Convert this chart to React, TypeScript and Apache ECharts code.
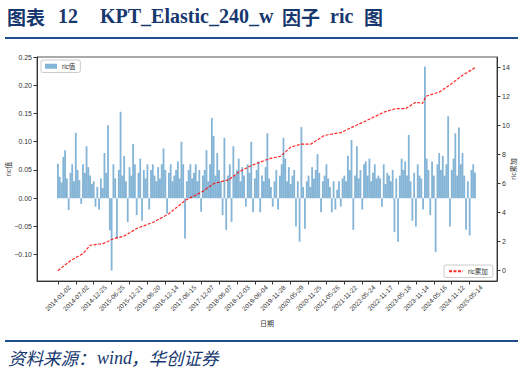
import React, { useEffect, useRef } from "react";
import * as echarts from "echarts";

// ---- data ----
const xTickLabels = [
  "2014-01-02", "2014-07-02", "2014-12-25", "2015-06-25", "2015-12-21", "2016-06-20",
  "2016-12-14", "2017-06-15", "2017-12-07", "2018-06-07", "2018-12-03", "2019-06-04",
  "2019-11-28", "2020-05-29", "2020-11-25", "2021-05-26", "2021-11-22", "2022-05-24",
  "2022-11-17", "2023-05-18", "2023-11-14", "2024-05-16", "2024-11-12", "2025-05-14",
];
const weeksPerTick = 25;
const weeksPerBar = 2.5;
const lastWeek = 584;

const leftTicks = [-0.1, -0.05, 0, 0.05, 0.1, 0.15, 0.2, 0.25];
const rightTicks = [0, 2, 4, 6, 8, 10, 12, 14];

// ric values (one every 2.5 weeks)
const ricValues = [
  0.061, 0.038, 0.028, 0.073, 0.085, 0.035, -0.021, 0.045, 0.06, 0.03,
  0.116, 0.05, 0.032, -0.01, 0.06, 0.045, 0.092, 0.055, 0.04, 0.025,
  0.03, -0.015, 0.02, -0.02, 0.035, 0.018, 0.08, 0.045, 0.129, -0.057,
  -0.128, 0.06, 0.035, -0.0715, 0.05, 0.153, 0.04, 0.075, 0.03, -0.042,
  0.055, 0.04, 0.096, 0.06, -0.03, 0.045, 0.07, -0.04, 0.05, 0.035,
  0.06, -0.02, 0.05, 0.06, 0.04, 0.03, 0.055, 0.035, 0.06, 0.088,
  0.05, -0.027, 0.045, 0.06, 0.03, 0.04, 0.05, 0.065, 0.035, 0.1,
  0.06, -0.0715, 0.03, 0.05, 0.06, 0.035, 0.045, 0.06, 0.03, 0.05,
  -0.024, 0.04, 0.05, 0.085, 0.03, 0.06, 0.142, 0.11, 0.04, 0.08,
  0.05, 0.03, -0.03, 0.107, -0.056, 0.04, 0.06, -0.042, 0.092, 0.04,
  0.05, 0.07, 0.03, 0.055, 0.04, -0.015, 0.06, 0.045, 0.1, -0.025,
  0.035, 0.05, 0.065, -0.025, 0.04, 0.03, 0.055, 0.115, 0.035, 0.02,
  -0.015, 0.03, 0.05, -0.02, 0.04, 0.06, 0.107, 0.07, 0.03, 0.055,
  0.025, 0.04, 0.05, -0.05, 0.03, -0.077, 0.126, 0.02, -0.054, 0.03,
  0.04, 0.02, 0.055, 0.035, 0.05, 0.078, 0.045, -0.025, 0.03, 0.04,
  0.06, 0.035, 0.02, -0.025, 0.03, -0.02, 0.015, 0.03, -0.015, 0.035,
  0.04, 0.03, 0.075, 0.05, 0.103, -0.056, 0.04, 0.092, 0.035, 0.05,
  -0.02, 0.06, 0.065, 0.04, 0.07, 0.03, 0.045, 0.06, 0.035, 0.04,
  0.035, -0.015, 0.06, 0.025, 0.045, 0.04, 0.03, 0.05, -0.06, 0.035,
  -0.077, 0.04, 0.07, 0.05, 0.065, 0.04, 0.112, 0.03, -0.04, 0.045,
  -0.05, 0.06, 0.04, 0.035, -0.02, 0.233, 0.07, 0.05, -0.03, 0.065,
  0.04, -0.095, 0.06, 0.08, 0.05, 0.075, 0.04, 0.06, 0.145, -0.05,
  0.05, 0.07, 0.115, 0.04, 0.125, 0.06, 0.08, 0.04, -0.056, 0.03,
  -0.066, 0.05, 0.06, 0.045,
];

// cumulative ric (week index, value)
const cumWeeks = [0, 17, 35, 45, 63, 78, 92, 110, 134, 155, 178, 201, 218, 239, 253, 271, 295, 311, 325, 339, 353, 372, 395, 414, 432, 456, 472, 486, 500, 509, 514, 533, 547, 565, 584];
const cumValues = [0.0, 0.67, 1.17, 1.75, 1.86, 2.2, 2.37, 2.9, 3.35, 3.92, 4.84, 5.42, 6.0, 6.26, 6.8, 7.25, 7.7, 7.87, 8.5, 8.7, 8.7, 9.3, 9.5, 9.94, 10.35, 10.92, 11.15, 11.15, 11.6, 11.5, 12.0, 12.3, 12.76, 13.45, 14.0];

const NAVY = "#17386f";
const LINE_BLUE = "#1f4e8c";
const AXIS = "#333333";
const LABEL_FONT = "'Liberation Sans', Arial, 'Noto Sans CJK SC', sans-serif";

export default function App() {
  const ref = useRef<HTMLDivElement>(null);
  useEffect(() => {
    if (!ref.current) return;
    const chart = echarts.init(ref.current, undefined, { renderer: "svg" });
    const margin = lastWeek * 0.05;
    const fmtLeft = (v: number) => (v < 0 ? "\u2212" + Math.abs(v).toFixed(2) : v.toFixed(2));
    const option: any = {
      animation: false,
      backgroundColor: "#ffffff",
      grid: {
        left: 37, top: 57, width: 460, height: 224,
        show: true, borderColor: "#555", borderWidth: 1,
        outerBoundsMode: "none",
      },
      legend: [
        {
          data: [{ name: "ric值", icon: "rect" }],
          left: 41, top: 60,
          itemWidth: 12, itemHeight: 5,
          padding: [3, 5, 3, 4],
          borderColor: "#cccccc", borderWidth: 1, borderRadius: 2,
          backgroundColor: "#ffffff",
          textStyle: { fontSize: 6.5, color: "#333", fontFamily: LABEL_FONT },
        },
        {
          data: ["ric累加"],
          left: 444, top: 265,
          itemWidth: 14, itemHeight: 5,
          padding: [3, 5, 3, 4],
          borderColor: "#cccccc", borderWidth: 1, borderRadius: 2,
          backgroundColor: "#ffffff",
          itemStyle: { opacity: 0 },
          textStyle: { fontSize: 6.5, color: "#333", fontFamily: LABEL_FONT },
        },
      ],
      xAxis: {
        type: "value",
        min: -margin,
        max: lastWeek + margin,
        name: "日期",
        nameLocation: "middle",
        nameGap: 39,
        nameMoveOverlap: false,
        nameTextStyle: { fontSize: 7, color: "#333", fontFamily: LABEL_FONT },
        splitLine: { show: false },
        axisLine: { show: true, onZero: false, lineStyle: { color: AXIS, width: 1 } },
        axisTick: {
          show: true, length: 3.5, inside: false,
          customValues: xTickLabels.map((_, i) => i * weeksPerTick),
          lineStyle: { color: AXIS },
        },
        axisLabel: {
          customValues: xTickLabels.map((_, i) => i * weeksPerTick),
          formatter: (v: number) => xTickLabels[Math.round(v / weeksPerTick)] ?? "",
          rotate: 45,
          align: "center",
          verticalAlign: "middle",
          margin: 17,
          fontSize: 6.5,
          color: "#333",
          fontFamily: LABEL_FONT,
        },
      },
      yAxis: [
        {
          type: "value",
          min: -0.1466, max: 0.25,
          name: "ric值",
          nameLocation: "middle",
          nameGap: 25,
          nameRotate: 90,
          nameMoveOverlap: false,
          nameTextStyle: { fontSize: 7, color: "#333", fontFamily: LABEL_FONT },
          splitLine: { show: false },
          axisLine: { show: true, onZero: false, lineStyle: { color: AXIS } },
          axisTick: { show: true, length: 3.5, customValues: leftTicks, lineStyle: { color: AXIS } },
          axisLabel: {
            customValues: leftTicks, formatter: fmtLeft,
            fontSize: 7, color: "#333", margin: 5, fontFamily: LABEL_FONT,
          },
        },
        {
          type: "value",
          position: "right",
          min: -0.71, max: 14.7,
          name: "ric累加",
          nameLocation: "middle",
          nameGap: 13,
          nameRotate: 90,
          nameMoveOverlap: false,
          nameTextStyle: { fontSize: 7, color: "#333", fontFamily: LABEL_FONT },
          splitLine: { show: false },
          axisLine: { show: true, onZero: false, lineStyle: { color: AXIS } },
          axisTick: { show: true, length: 3.5, customValues: rightTicks, lineStyle: { color: AXIS } },
          axisLabel: {
            customValues: rightTicks, formatter: (v: number) => String(v),
            fontSize: 7, color: "#333", margin: 5, fontFamily: LABEL_FONT,
          },
        },
      ],
      series: [
        {
          name: "ric值",
          type: "bar",
          yAxisIndex: 0,
          barWidth: 1.8,
          itemStyle: { color: "rgba(31,119,180,0.55)" },
          data: ricValues.map((v, i) => [i * weeksPerBar, v]),
        },
        {
          name: "ric累加",
          type: "line",
          yAxisIndex: 1,
          symbol: "none",
          lineStyle: { color: "rgba(255,0,0,0.85)", width: 1.2, type: [3, 1.5] },
          itemStyle: { color: "rgba(255,0,0,0.85)" },
          data: cumWeeks.map((w, i) => [w, cumValues[i]]),
        },
      ],
      graphic: [
        { type: "text", left: 7, top: 7, style: { text: "图表", fontSize: 19, fontWeight: "bold", fill: NAVY, fontFamily: "'Noto Sans CJK SC', sans-serif" } },
        { type: "text", left: 58, top: 6, style: { text: "12", fontSize: 20, fontWeight: "bold", fill: NAVY, fontFamily: "'Liberation Serif', serif" } },
        { type: "text", left: 100, top: 6, style: { text: "KPT_Elastic_240_w", fontSize: 20, fontWeight: "bold", fill: NAVY, fontFamily: "'Liberation Serif', serif" } },
        { type: "text", left: 282, top: 7, style: { text: "因子", fontSize: 19, fontWeight: "bold", fill: NAVY, fontFamily: "'Noto Sans CJK SC', sans-serif" } },
        { type: "text", left: 330, top: 6, style: { text: "ric", fontSize: 20, fontWeight: "bold", fill: NAVY, fontFamily: "'Liberation Serif', serif" } },
        { type: "text", left: 364, top: 7, style: { text: "图", fontSize: 19, fontWeight: "bold", fill: NAVY, fontFamily: "'Noto Sans CJK SC', sans-serif" } },
        { type: "rect", shape: { x: 5, y: 37, width: 513, height: 2 }, style: { fill: LINE_BLUE } },
        { type: "rect", shape: { x: 5, y: 340, width: 513, height: 2 }, style: { fill: LINE_BLUE } },
        { type: "text", left: 8, top: 349, style: { text: "资料来源：", fontSize: 17.5, fontStyle: "italic", fill: NAVY, fontFamily: "'Noto Sans CJK SC', sans-serif" } },
        { type: "text", left: 97, top: 349, style: { text: "wind", fontSize: 18, fontStyle: "italic", fill: NAVY, fontFamily: "'Liberation Serif', serif" } },
        { type: "text", left: 131, top: 349, style: { text: "，华创证券", fontSize: 17.5, fontStyle: "italic", fill: NAVY, fontFamily: "'Noto Sans CJK SC', sans-serif" } },
      ],
    };
    chart.setOption(option);
    return () => chart.dispose();
  }, []);
  return (
    <div
      ref={ref}
      style={{ position: "fixed", left: 0, top: 0, width: 524, height: 376, background: "#fff" }}
    />
  );
}
